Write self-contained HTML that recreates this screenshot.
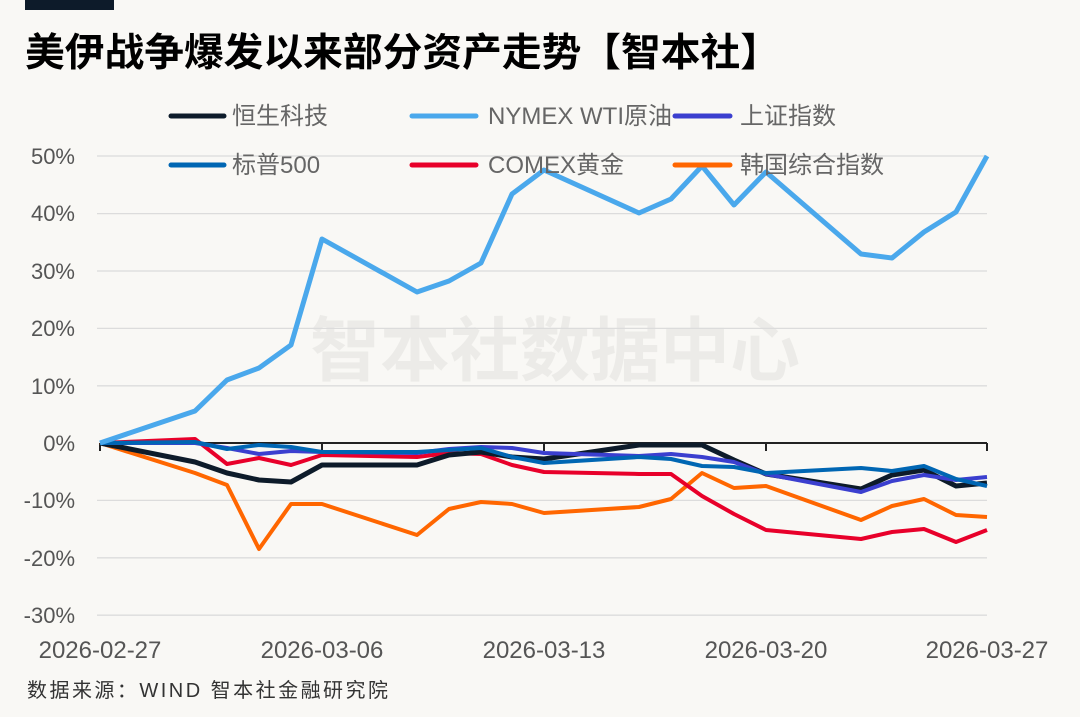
<!DOCTYPE html>
<html><head><meta charset="utf-8"><style>
body{margin:0;background:#f9f8f5;}
svg text{font-family:"Liberation Sans","Noto Sans CJK SC",sans-serif;}
</style></head><body>
<svg width="1080" height="712" xmlns="http://www.w3.org/2000/svg">
<rect width="1080" height="712" fill="#f9f8f5"/>
<rect x="25" y="0" width="89" height="10" fill="#0d1b2a"/>
<text x="25" y="66" font-size="39" font-weight="bold" fill="#000" textLength="755" lengthAdjust="spacingAndGlyphs">美伊战争爆发以来部分资产走势【智本社】</text>
<text x="555" y="375" font-size="70" font-weight="bold" fill="#000" fill-opacity="0.05" text-anchor="middle">智本社数据中心</text>
<g stroke="#dcdcdc" stroke-width="1.3">
<line x1="97" x2="987" y1="156" y2="156"/><line x1="97" x2="987" y1="213.6" y2="213.6"/>
<line x1="97" x2="987" y1="271" y2="271"/><line x1="97" x2="987" y1="328.4" y2="328.4"/>
<line x1="97" x2="987" y1="385.8" y2="385.8"/><line x1="97" x2="987" y1="500.4" y2="500.4"/>
<line x1="97" x2="987" y1="557.8" y2="557.8"/><line x1="97" x2="987" y1="615.2" y2="615.2"/>
</g>
<g font-size="22" fill="#555" text-anchor="end">
<text x="75" y="164">50%</text><text x="75" y="221">40%</text><text x="75" y="279">30%</text>
<text x="75" y="336">20%</text><text x="75" y="394">10%</text><text x="75" y="451">0%</text>
<text x="75" y="508">-10%</text><text x="75" y="566">-20%</text><text x="75" y="623">-30%</text>
</g>
<g font-size="24" fill="#555" text-anchor="middle">
<text x="100" y="658">2026-02-27</text><text x="322" y="658">2026-03-06</text>
<text x="544" y="658">2026-03-13</text><text x="766" y="658">2026-03-20</text><text x="987" y="658">2026-03-27</text>
</g>
<g stroke="#222" stroke-width="2" fill="none">
<line x1="100" x2="987" y1="443" y2="443"/>
<line x1="100" x2="100" y1="443" y2="451"/><line x1="322" x2="322" y1="443" y2="451"/>
<line x1="544" x2="544" y1="443" y2="451"/><line x1="766" x2="766" y1="443" y2="451"/>
<line x1="987" x2="987" y1="443" y2="451"/>
</g>
<g fill="none" stroke-linejoin="round" stroke-width="4">
<polyline stroke="#ff6600" points="100,443 195,473 227,485 259,549 291,504 322,504 417,535 449,509 481,502 512,504 544,513 639,507 671,499 702,473 734,488 766,486 861,520 892,506 924,499 956,515 987,517"/>
<polyline stroke="#e8002a" points="100,443 195,439 227,464 259,458 291,465 322,455 417,457 449,453 481,454 512,465 544,472 639,474 671,474 702,496 734,514 766,530 861,539 892,532 924,529 956,542 987,530"/>
<polyline stroke="#0d1b2a" stroke-width="5" points="100,443 195,462 227,473 259,480 291,482 322,465 417,465 449,455 481,452 512,457 544,459 639,445 671,445 702,445 734,460 766,474 861,489 892,475 924,470 956,486 987,483"/>
<polyline stroke="#3b3fcf" points="100,443 195,443 227,448 259,454 291,451 322,452 417,453 449,449 481,447 512,448 544,453 639,456 671,454 702,457 734,462 766,474 861,492 892,481 924,475 956,480 987,477"/>
<polyline stroke="#0066b3" points="100,443 195,442 227,449 259,445 291,447 322,452 417,452 449,450 481,448 512,457 544,463 639,457 671,459 702,466 734,467 766,473 861,468 892,471 924,466 956,479 987,486"/>
<polyline stroke="#4aa8ec" stroke-width="5" points="100,443 195,411 227,380 259,368 291,345 322,239 417,292 449,281 481,263 512,194 544,170 639,213 671,199 702,166 734,205 766,172 861,254 892,258 924,232 956,212 987,156"/>
</g>
<g stroke-width="5" stroke-linecap="round">
<line x1="171" x2="224" y1="116" y2="116" stroke="#0d1b2a"/>
<line x1="412" x2="476" y1="116" y2="116" stroke="#4aa8ec"/>
<line x1="675" x2="730" y1="116" y2="116" stroke="#3b3fcf"/>
<line x1="171" x2="224" y1="165" y2="165" stroke="#0066b3"/>
<line x1="412" x2="476" y1="165" y2="165" stroke="#e8002a"/>
<line x1="675" x2="730" y1="165" y2="165" stroke="#ff6600"/>
</g>
<g font-size="24" fill="#666">
<text x="232" y="124">恒生科技</text><text x="488" y="124">NYMEX WTI原油</text><text x="740" y="124">上证指数</text>
<text x="232" y="173">标普500</text><text x="488" y="173">COMEX黄金</text><text x="740" y="173">韩国综合指数</text>
</g>
<text x="27" y="697" font-size="20" fill="#333" textLength="361" lengthAdjust="spacing" font-family="'Liberation Mono','Noto Sans CJK SC',monospace">数据来源：WIND 智本社金融研究院</text>
</svg>
</body></html>
